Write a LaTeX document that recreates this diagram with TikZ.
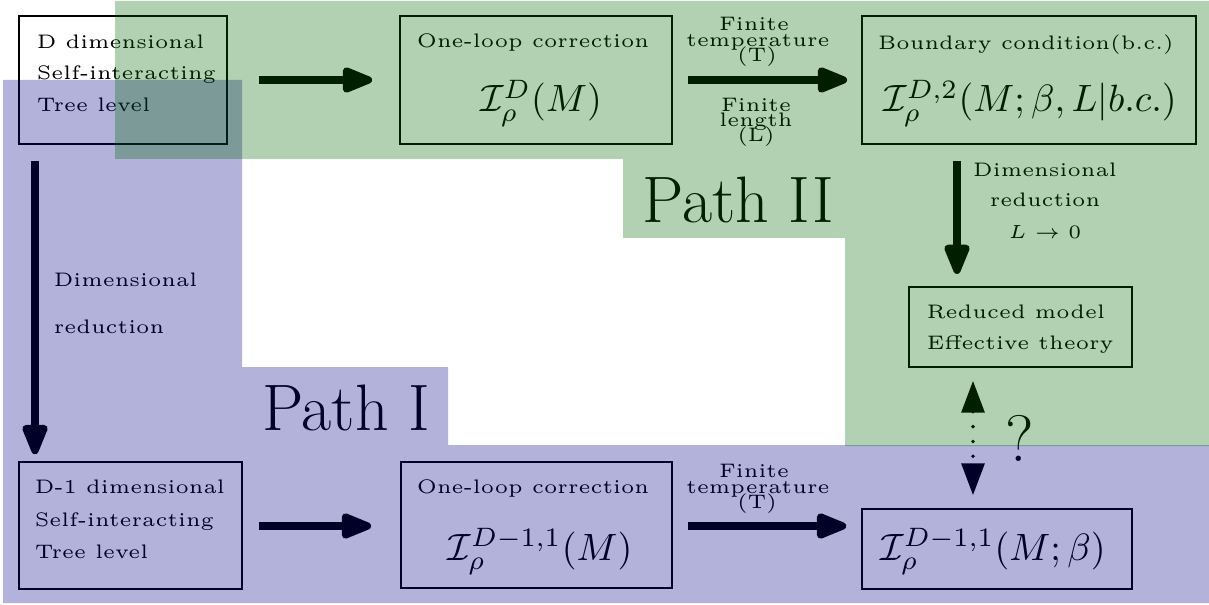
\documentclass[tikz,border=0pt]{standalone}
\usetikzlibrary{arrows.meta}
\newcommand\smfont{\fontsize{5.15}{6}\selectfont}
\newcommand\bigmathfont{\fontsize{10}{12}\selectfont}
\newcommand\pathfont{\fontsize{17.28}{20}\selectfont}
\definecolor{gOv}{RGB}{0,102,0}
\definecolor{bOv}{RGB}{0,0,135}
\begin{document}
\begin{tikzpicture}[x=0.263pt,y=-0.263pt,
  box/.style={draw=black, line width=0.5pt, inner sep=0pt},
  txtw/.style={inner sep=0pt, font=\smfont, anchor=base west},
  lbl/.style={inner sep=0pt, font=\smfont, anchor=base},
  mth/.style={inner sep=0pt, font=\bigmathfont, anchor=base},
  pathlbl/.style={inner sep=0pt, font=\pathfont, anchor=base},
  big/.style={line width=1.9pt, -{Triangle[length=9.5pt,width=7pt,round]}},
  dotarrow/.style={line width=1pt, dash pattern=on 0pt off 3.9pt, line cap=round,
    {Triangle[length=8.4pt,width=6pt]}-{Triangle[length=8.4pt,width=6pt]}},
  ovl/.style={draw=none, fill opacity=0.3}
]
\useasboundingbox (0,0) rectangle (1209,605);
\fill[white] (0,0) rectangle (1209,605);

% boxes
\node[box, minimum width=54.7pt, minimum height=33.7pt] (A) at (123,80) {};
\node[box, minimum width=71.5pt, minimum height=33.7pt] (B) at (536,80) {};
\node[box, minimum width=87.8pt, minimum height=33.7pt] (C) at (1029,80) {};
\node[box, minimum width=58.6pt, minimum height=21.0pt] (D) at (1020.5,327) {};
\node[box, minimum width=58.6pt, minimum height=33.4pt] (E) at (130.5,525.5) {};
\node[box, minimum width=71.3pt, minimum height=33.1pt] (F) at (536.5,525) {};
\node[box, minimum width=71.0pt, minimum height=21.0pt] (G) at (997,549) {};

% box texts
\node[txtw] (A1) at (36,49) {D dimensional};
\node[txtw] (A2) at (36,80) {Self-interacting};
\node[txtw] (A3) at (36,112) {Tree level};
\node[lbl] (B1) at (533,48) {One-loop correction};
\node[mth] (B2) at (541,112) {$\mathcal{I}^{D}_{\rho}(M)$};
\node[lbl] (C1) at (1026,50) {Boundary condition(b.c.)};
\node[mth] (C2) at (1030,112) {$\mathcal{I}^{D,2}_{\rho}(M;\beta,L|b.c.)$};
\node[txtw] (D1) at (926,318) {Reduced model};
\node[txtw] (D2) at (926,350) {Effective theory};
\node[txtw] (E1) at (34,493) {D-1 dimensional};
\node[txtw] (E2) at (34,526) {Self-interacting};
\node[txtw] (E3) at (34,558) {Tree level};
\node[lbl] (F1) at (533,493) {One-loop correction};
\node[mth] (F2) at (540,560) {$\mathcal{I}^{D-1,1}_{\rho}(M)$};
\node[mth] (G1) at (993,560) {$\mathcal{I}^{D-1,1}_{\rho}(M;\beta)$};

% arrows
\draw[big, shorten <=8.2pt, shorten >=7.1pt] (A.east) -- (B.west);
\draw[big, shorten <=3.9pt, shorten >=3.7pt] (B.east) -- (C.west);
\coordinate (xcd) at (957,0);
\draw[big, shorten <=4.2pt, shorten >=3.2pt] (C.south -| xcd) -- (D.north -| xcd);
\coordinate (xae) at (35,0);
\draw[big, shorten <=4.2pt, shorten >=1.8pt] (A.south -| xae) -- (E.north -| xae);
\coordinate (yef) at (0,526);
\draw[big, shorten <=4.2pt, shorten >=7.6pt] (E.east |- yef) -- (F.west |- yef);
\draw[big, shorten <=3.9pt, shorten >=3.9pt] (F.east |- yef) -- (G.west |- yef);
\coordinate (xdg) at (973,0);
\draw[dotarrow, shorten <=3.4pt, shorten >=3.4pt] (D.south -| xdg) -- (G.north -| xdg);

% arrow labels
\node[lbl] (T1a) at (754,31) {Finite};
\node[lbl] (T1b) at (758,47) {temperature};
\node[lbl] (T1c) at (757,62) {(T)};
\node[lbl] (L1a) at (756,112) {Finite};
\node[lbl] (L1b) at (756,127) {length};
\node[lbl] (L1c) at (756,142) {(L)};
\node[lbl] (T2a) at (754,477) {Finite};
\node[lbl] (T2b) at (758,493) {temperature};
\node[lbl] (T2c) at (757,508) {(T)};
\node[lbl] (R1a) at (1045,177) {Dimensional};
\node[lbl] (R1b) at (1045,207) {reduction};
\node[lbl] (R1c) at (1045,239) {$L\to 0$};
\node[txtw] (R2a) at (53,287) {Dimensional};
\node[txtw] (R2b) at (53,334) {reduction};
\node[pathlbl] (Q) at (1020,461) {?};

% path labels
\node[pathlbl] (P2) at (738,223) {Path II};
\node[pathlbl] (P1) at (346,430) {Path I};

% translucent overlays
\fill[ovl, bOv] (3,80) -- (242,80) -- (242,367) -- (448,367) -- (448,445)
  -- (1209,445) -- (1209,603) -- (3,603) -- cycle;
\fill[ovl, gOv] (115,1) -- (1209,1) -- (1209,446) -- (845,446) -- (845,238)
  -- (623,238) -- (623,159) -- (115,159) -- cycle;
\end{tikzpicture}
\end{document}
